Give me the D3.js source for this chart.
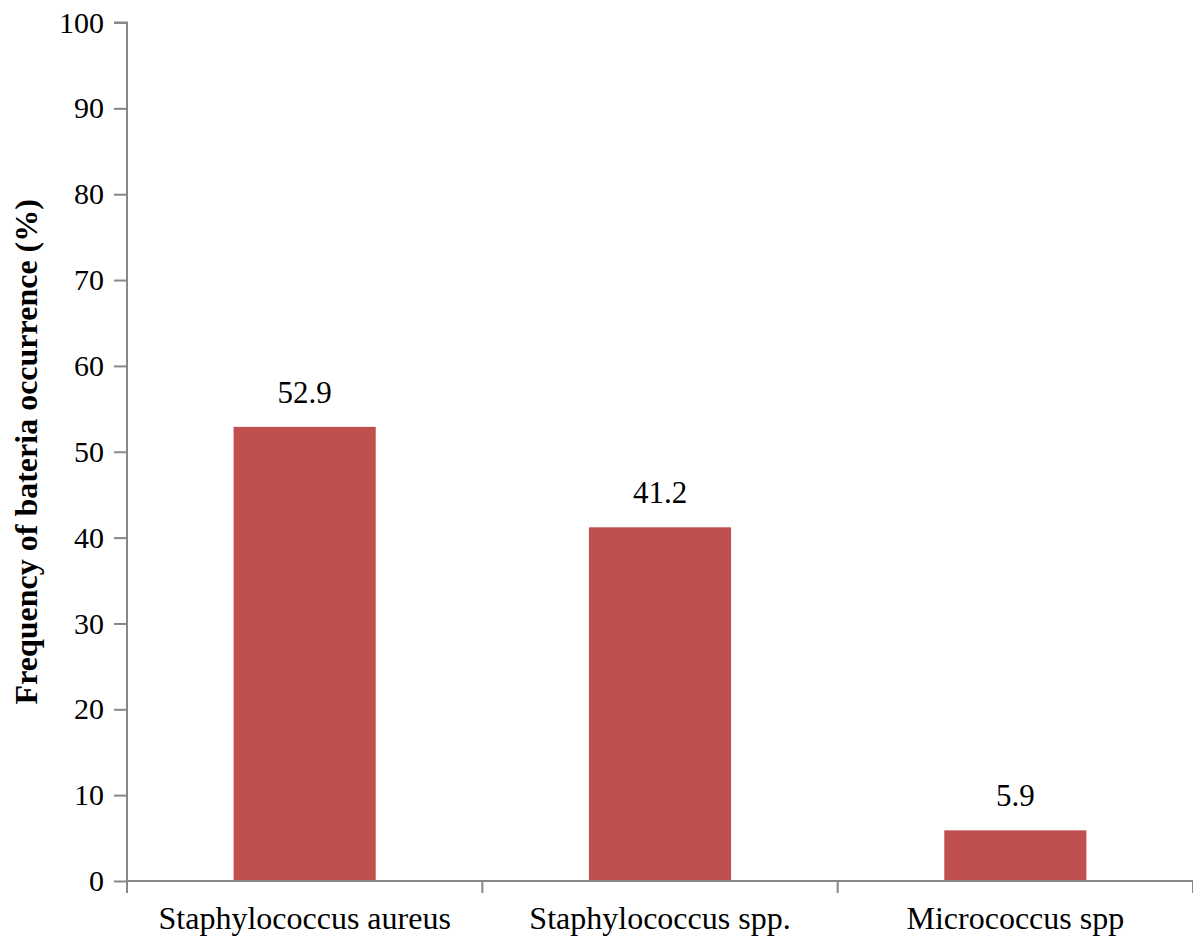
<!DOCTYPE html>
<html>
<head>
<meta charset="utf-8">
<script src="https://cdn.jsdelivr.net/npm/d3@7"></script>
<style>
  html, body { margin: 0; padding: 0; background: #fff; }
  svg text { font-family: "Liberation Serif", "Times New Roman", serif; fill: #000; }
</style>
</head>
<body>
<svg id="chart" width="1193" height="943"></svg>
<script>
// Bacterial isolates and their frequency of occurrence (%)
const categories = ["Staphylococcus aureus", "Staphylococcus spp.", "Micrococcus spp"];
const frequencies = [52.9, 41.2, 5.9];
const yTicks = [0, 10, 20, 30, 40, 50, 60, 70, 80, 90, 100];

const svg = d3.select("#chart");
const margin = { left: 127, right: 0, top: 22.5, bottom: 62 };
const W = 1193, H = 943;
const axisColor = "#888888";

const x = d3.scaleBand()
  .domain(categories)
  .range([margin.left, W - margin.right])
  .paddingInner(0.6)
  .paddingOuter(0.3);

const y = d3.scaleLinear()
  .domain([0, 100])
  .range([H - margin.bottom, margin.top]);

// Bars
svg.append("g").selectAll("rect")
  .data(categories)
  .join("rect")
  .attr("x", d => x(d))
  .attr("width", x.bandwidth())
  .attr("y", (d, i) => y(frequencies[i]))
  .attr("height", (d, i) => y(0) - y(frequencies[i]))
  .attr("fill", "#C0504D");

// Value labels above bars
svg.append("g").selectAll("text")
  .data(categories)
  .join("text")
  .attr("x", d => x(d) + x.bandwidth() / 2)
  .attr("y", (d, i) => y(frequencies[i]) - 24)
  .attr("text-anchor", "middle")
  .attr("font-size", 31)
  .text((d, i) => frequencies[i].toFixed(1));

// Y axis
const yAxis = svg.append("g")
  .attr("transform", `translate(${margin.left},0)`)
  .call(d3.axisLeft(y).tickValues(yTicks).tickSize(13).tickPadding(10));
yAxis.selectAll("path, line").attr("stroke", axisColor).attr("stroke-width", 2);
yAxis.select(".domain").attr("d", `M-13,${y(100)}H0V${y(0) + 12}`);
yAxis.selectAll("text")
  .attr("font-size", 30)
  .attr("dy", "0.32em")
  .attr("font-family", "Liberation Serif, serif")
  .attr("fill", "#000");

// X axis: ticks sit at band boundaries
const xAxisG = svg.append("g").attr("transform", `translate(0,${y(0)})`);
xAxisG.append("line")
  .attr("x1", margin.left).attr("x2", W)
  .attr("stroke", axisColor).attr("stroke-width", 2);
const boundaries = categories.map(c => x(c) + x.bandwidth() + x.step() * x.paddingInner() / 2);
xAxisG.selectAll("line.tick")
  .data(boundaries)
  .join("line")
  .attr("class", "tick")
  .attr("x1", d => d).attr("x2", d => d)
  .attr("y1", 0).attr("y2", 12)
  .attr("stroke", axisColor).attr("stroke-width", 2);
xAxisG.selectAll("text")
  .data(categories)
  .join("text")
  .attr("x", d => x(d) + x.bandwidth() / 2)
  .attr("y", 48)
  .attr("text-anchor", "middle")
  .attr("font-size", 32)
  .text(d => d);

// Y axis title
svg.append("text")
  .attr("transform", `translate(37,${(y(0) + y(100)) / 2}) rotate(-90)`)
  .attr("text-anchor", "middle")
  .attr("font-size", 32)
  .attr("font-weight", "bold")
  .text("Frequency of bateria occurrence (%)");
</script>
</body>
</html>
